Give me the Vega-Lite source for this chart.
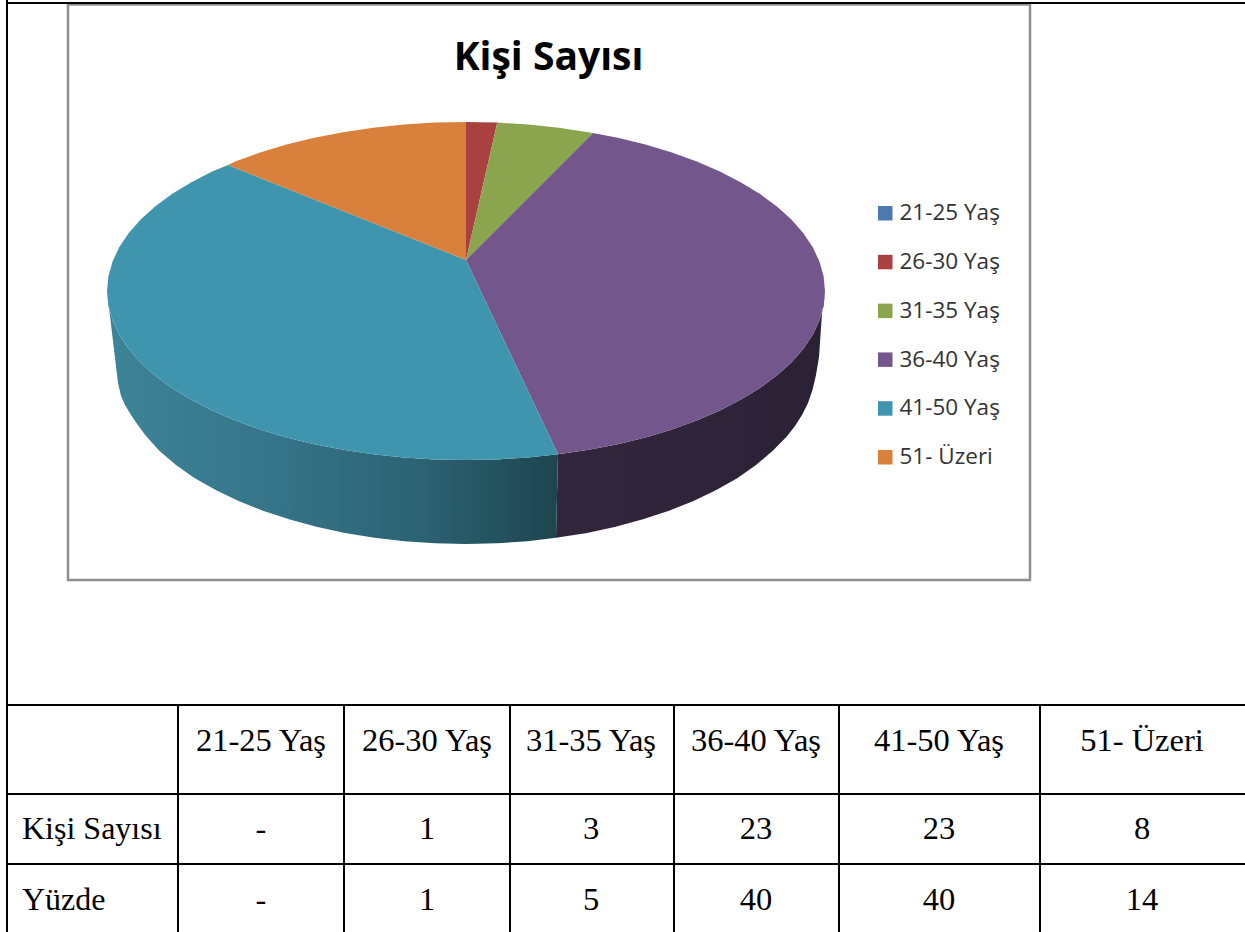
{
"$schema":"https://vega.github.io/schema/vega-lite/v6.json",
"width":1245,"height":932,"padding":0,"autosize":{"type":"none"},
"background":"white",
"view":{"stroke":null},
"title":{"text":"Kişi Sayısı","font":"Open Sans","fontSize":39,"fontWeight":"bold","color":"#000000","frame":"group","anchor":"middle","offset":0,"dx":-74,"dy":110,"baseline":"alphabetic"},
"encoding":{
"x":{"field":"x","type":"quantitative","scale":{"domain":[0,1245],"nice":false,"zero":false},"axis":null},
"y":{"field":"y","type":"quantitative","scale":{"domain":[932,0],"nice":false,"zero":false},"axis":null}
},
"layer":[
{"data":{"values":[{"x":68,"y":4.5,"x2":1030,"y2":580}]},
 "mark":{"type":"rect","fill":"white","stroke":"#8f8f8f","strokeWidth":2.5},
 "encoding":{"x2":{"field":"x2"},"y2":{"field":"y2"}}},
{"data":{"values":[
{"seq":1,"x":558,"y":454.3},{"seq":2,"x":588.8,"y":449.8},{"seq":3,"x":617.7,"y":444.2},{"seq":4,"x":645.5,"y":437.4},{"seq":5,"x":671.9,"y":429.4},{"seq":6,"x":696.8,"y":420.5},{"seq":7,"x":719.9,"y":410.5},{"seq":8,"x":741,"y":399.6},{"seq":9,"x":760.1,"y":387.9},{"seq":10,"x":776.9,"y":375.5},{"seq":11,"x":791.4,"y":362.4},{"seq":12,"x":803.4,"y":348.8},{"seq":13,"x":812.8,"y":334.7},{"seq":14,"x":819.5,"y":320.3},{"seq":15,"x":823.6,"y":305.7},{"seq":16,"x":825,"y":291},
{"seq":17,"x":822,"y":313},{"seq":18,"x":819,"y":357},{"seq":19,"x":816,"y":375},{"seq":20,"x":812.5,"y":390},{"seq":21,"x":808,"y":403},{"seq":22,"x":802,"y":415},{"seq":23,"x":795,"y":426},{"seq":24,"x":786.8,"y":436.5},{"seq":25,"x":773,"y":450.5},{"seq":26,"x":756,"y":465},{"seq":27,"x":737.2,"y":478.3},{"seq":28,"x":716.3,"y":490.1},{"seq":29,"x":693.5,"y":501},{"seq":30,"x":669,"y":510.7},{"seq":31,"x":643,"y":519.3},{"seq":32,"x":615.6,"y":526.8},{"seq":33,"x":587.1,"y":532.9},{"seq":34,"x":556,"y":537.8}
]},
 "mark":{"type":"line","strokeWidth":0,"fill":{"gradient":"linear","x1":0,"y1":0,"x2":1,"y2":0,"stops":[{"offset":0,"color":"#32263c"},{"offset":1,"color":"#2b2135"}]}},
 "encoding":{"order":{"field":"seq","type":"quantitative"}}},
{"data":{"values":[
{"seq":1,"x":558,"y":454.3},{"seq":2,"x":528.3,"y":457.4},{"seq":3,"x":497.3,"y":459.4},{"seq":4,"x":466,"y":460},{"seq":5,"x":434.7,"y":459.4},{"seq":6,"x":403.7,"y":457.4},{"seq":7,"x":373.1,"y":454.2},{"seq":8,"x":343.2,"y":449.8},{"seq":9,"x":314.3,"y":444.2},{"seq":10,"x":286.5,"y":437.4},{"seq":11,"x":260.1,"y":429.4},{"seq":12,"x":235.2,"y":420.5},{"seq":13,"x":212.1,"y":410.5},{"seq":14,"x":191,"y":399.6},{"seq":15,"x":171.9,"y":387.9},{"seq":16,"x":155.1,"y":375.5},{"seq":17,"x":140.6,"y":362.4},{"seq":18,"x":128.6,"y":348.8},{"seq":19,"x":119.2,"y":334.7},{"seq":20,"x":112.5,"y":320.3},{"seq":21,"x":108.4,"y":305.7},{"seq":22,"x":107,"y":291},
{"seq":23,"x":118,"y":383},{"seq":24,"x":121,"y":396},{"seq":25,"x":125,"y":405},{"seq":26,"x":131,"y":415},{"seq":27,"x":137.5,"y":424.5},{"seq":28,"x":145.2,"y":435},{"seq":29,"x":159,"y":450.5},{"seq":30,"x":176,"y":465},{"seq":31,"x":194.8,"y":478.3},{"seq":32,"x":215.7,"y":490.1},{"seq":33,"x":238.5,"y":501},{"seq":34,"x":263,"y":510.7},{"seq":35,"x":289,"y":519.3},{"seq":36,"x":316.4,"y":526.8},{"seq":37,"x":344.9,"y":532.9},{"seq":38,"x":374.4,"y":537.7},{"seq":39,"x":404.5,"y":541.2},{"seq":40,"x":435.1,"y":543.3},{"seq":41,"x":466,"y":544},{"seq":42,"x":496.9,"y":543.3},{"seq":43,"x":527.5,"y":541.2},{"seq":44,"x":556,"y":537.8}
]},
 "mark":{"type":"line","strokeWidth":0,"fill":{"gradient":"linear","x1":0,"y1":0,"x2":1,"y2":0,"stops":[{"offset":0,"color":"#3d8499"},{"offset":0.35,"color":"#36758a"},{"offset":0.7,"color":"#2c6273"},{"offset":1,"color":"#1d454e"}]}},
 "encoding":{"order":{"field":"seq","type":"quantitative"}}},
{"data":{"values":[
{"slice":"26-30 Yaş","seq":1,"x":466,"y":260},{"slice":"26-30 Yaş","seq":2,"x":466,"y":122},{"slice":"26-30 Yaş","seq":3,"x":497.3,"y":122.6},
{"slice":"31-35 Yaş","seq":1,"x":466,"y":260},{"slice":"31-35 Yaş","seq":2,"x":497.3,"y":122.6},{"slice":"31-35 Yaş","seq":3,"x":528.3,"y":124.6},{"slice":"31-35 Yaş","seq":4,"x":558.9,"y":127.8},{"slice":"31-35 Yaş","seq":5,"x":593,"y":133},
{"slice":"36-40 Yaş","seq":1,"x":466,"y":260},{"slice":"36-40 Yaş","seq":2,"x":593,"y":133},{"slice":"36-40 Yaş","seq":3,"x":617.7,"y":137.8},{"slice":"36-40 Yaş","seq":4,"x":645.5,"y":144.6},{"slice":"36-40 Yaş","seq":5,"x":671.9,"y":152.6},{"slice":"36-40 Yaş","seq":6,"x":696.8,"y":161.5},{"slice":"36-40 Yaş","seq":7,"x":719.9,"y":171.5},{"slice":"36-40 Yaş","seq":8,"x":741,"y":182.4},{"slice":"36-40 Yaş","seq":9,"x":760.1,"y":194.1},{"slice":"36-40 Yaş","seq":10,"x":776.9,"y":206.5},{"slice":"36-40 Yaş","seq":11,"x":791.4,"y":219.6},{"slice":"36-40 Yaş","seq":12,"x":803.4,"y":233.2},{"slice":"36-40 Yaş","seq":13,"x":812.8,"y":247.3},{"slice":"36-40 Yaş","seq":14,"x":819.5,"y":261.7},{"slice":"36-40 Yaş","seq":15,"x":823.6,"y":276.3},{"slice":"36-40 Yaş","seq":16,"x":825,"y":291},{"slice":"36-40 Yaş","seq":17,"x":823.6,"y":305.7},{"slice":"36-40 Yaş","seq":18,"x":819.5,"y":320.3},{"slice":"36-40 Yaş","seq":19,"x":812.8,"y":334.7},{"slice":"36-40 Yaş","seq":20,"x":803.4,"y":348.8},{"slice":"36-40 Yaş","seq":21,"x":791.4,"y":362.4},{"slice":"36-40 Yaş","seq":22,"x":776.9,"y":375.5},{"slice":"36-40 Yaş","seq":23,"x":760.1,"y":387.9},{"slice":"36-40 Yaş","seq":24,"x":741,"y":399.6},{"slice":"36-40 Yaş","seq":25,"x":719.9,"y":410.5},{"slice":"36-40 Yaş","seq":26,"x":696.8,"y":420.5},{"slice":"36-40 Yaş","seq":27,"x":671.9,"y":429.4},{"slice":"36-40 Yaş","seq":28,"x":645.5,"y":437.4},{"slice":"36-40 Yaş","seq":29,"x":617.7,"y":444.2},{"slice":"36-40 Yaş","seq":30,"x":588.8,"y":449.8},{"slice":"36-40 Yaş","seq":31,"x":558,"y":454.3},
{"slice":"41-50 Yaş","seq":1,"x":466,"y":260},{"slice":"41-50 Yaş","seq":2,"x":558,"y":454.3},{"slice":"41-50 Yaş","seq":3,"x":528.3,"y":457.4},{"slice":"41-50 Yaş","seq":4,"x":497.3,"y":459.4},{"slice":"41-50 Yaş","seq":5,"x":466,"y":460},{"slice":"41-50 Yaş","seq":6,"x":434.7,"y":459.4},{"slice":"41-50 Yaş","seq":7,"x":403.7,"y":457.4},{"slice":"41-50 Yaş","seq":8,"x":373.1,"y":454.2},{"slice":"41-50 Yaş","seq":9,"x":343.2,"y":449.8},{"slice":"41-50 Yaş","seq":10,"x":314.3,"y":444.2},{"slice":"41-50 Yaş","seq":11,"x":286.5,"y":437.4},{"slice":"41-50 Yaş","seq":12,"x":260.1,"y":429.4},{"slice":"41-50 Yaş","seq":13,"x":235.2,"y":420.5},{"slice":"41-50 Yaş","seq":14,"x":212.1,"y":410.5},{"slice":"41-50 Yaş","seq":15,"x":191,"y":399.6},{"slice":"41-50 Yaş","seq":16,"x":171.9,"y":387.9},{"slice":"41-50 Yaş","seq":17,"x":155.1,"y":375.5},{"slice":"41-50 Yaş","seq":18,"x":140.6,"y":362.4},{"slice":"41-50 Yaş","seq":19,"x":128.6,"y":348.8},{"slice":"41-50 Yaş","seq":20,"x":119.2,"y":334.7},{"slice":"41-50 Yaş","seq":21,"x":112.5,"y":320.3},{"slice":"41-50 Yaş","seq":22,"x":108.4,"y":305.7},{"slice":"41-50 Yaş","seq":23,"x":107,"y":291},{"slice":"41-50 Yaş","seq":24,"x":108.4,"y":276.3},{"slice":"41-50 Yaş","seq":25,"x":112.5,"y":261.7},{"slice":"41-50 Yaş","seq":26,"x":119.2,"y":247.3},{"slice":"41-50 Yaş","seq":27,"x":128.6,"y":233.2},{"slice":"41-50 Yaş","seq":28,"x":140.6,"y":219.6},{"slice":"41-50 Yaş","seq":29,"x":155.1,"y":206.5},{"slice":"41-50 Yaş","seq":30,"x":171.9,"y":194.1},{"slice":"41-50 Yaş","seq":31,"x":191,"y":182.4},{"slice":"41-50 Yaş","seq":32,"x":212.1,"y":171.5},{"slice":"41-50 Yaş","seq":33,"x":228,"y":165},
{"slice":"51- Üzeri","seq":1,"x":466,"y":260},{"slice":"51- Üzeri","seq":2,"x":228,"y":165},{"slice":"51- Üzeri","seq":3,"x":235.2,"y":161.5},{"slice":"51- Üzeri","seq":4,"x":260.1,"y":152.6},{"slice":"51- Üzeri","seq":5,"x":286.5,"y":144.6},{"slice":"51- Üzeri","seq":6,"x":314.3,"y":137.8},{"slice":"51- Üzeri","seq":7,"x":343.2,"y":132.2},{"slice":"51- Üzeri","seq":8,"x":373.1,"y":127.8},{"slice":"51- Üzeri","seq":9,"x":403.7,"y":124.6},{"slice":"51- Üzeri","seq":10,"x":434.7,"y":122.6},{"slice":"51- Üzeri","seq":11,"x":466,"y":122}
]},
 "mark":{"type":"line","strokeWidth":0,"filled":true},
 "encoding":{
  "order":{"field":"seq","type":"quantitative"},
  "fill":{"field":"slice","type":"nominal",
   "scale":{"domain":["21-25 Yaş","26-30 Yaş","31-35 Yaş","36-40 Yaş","41-50 Yaş","51- Üzeri"],"range":["#4a7ab0","#a8413f","#8aa54e","#73568b","#4095ae","#d8803c"]},
   "legend":{"title":null,"orient":"none","legendX":874,"legendY":202,"symbolType":"square","symbolSize":210,"symbolStrokeWidth":0,"labelFont":"Open Sans","labelFontSize":22.5,"labelColor":"#333333","labelOffset":3,"rowPadding":25.8}}
 }},
{"data":{"values":[
{"x":7,"y":3,"x2":1245,"y2":3},{"x":7,"y":0,"x2":7,"y2":932},
{"x":7,"y":705,"x2":1245,"y2":705},{"x":7,"y":794,"x2":1245,"y2":794},{"x":7,"y":864,"x2":1245,"y2":864},
{"x":178,"y":705,"x2":178,"y2":932},{"x":344,"y":705,"x2":344,"y2":932},{"x":510,"y":705,"x2":510,"y2":932},{"x":674,"y":705,"x2":674,"y2":932},{"x":839,"y":705,"x2":839,"y2":932},{"x":1040,"y":705,"x2":1040,"y2":932}
]},
 "mark":{"type":"rule","color":"#000000","strokeWidth":2},
 "encoding":{"x2":{"field":"x2"},"y2":{"field":"y2"}}},
{"data":{"values":[
{"t":"21-25 Yaş","x":261,"y":741},{"t":"26-30 Yaş","x":427,"y":741},{"t":"31-35 Yaş","x":591,"y":741},{"t":"36-40 Yaş","x":756,"y":741},{"t":"41-50 Yaş","x":939,"y":741},{"t":"51- Üzeri","x":1142,"y":741},
{"t":"-","x":261,"y":829},{"t":"1","x":427,"y":829},{"t":"3","x":591,"y":829},{"t":"23","x":756,"y":829},{"t":"23","x":939,"y":829},{"t":"8","x":1142,"y":829},
{"t":"-","x":261,"y":900},{"t":"1","x":427,"y":900},{"t":"5","x":591,"y":900},{"t":"40","x":756,"y":900},{"t":"40","x":939,"y":900},{"t":"14","x":1142,"y":900}
]},
 "mark":{"type":"text","font":"Liberation Serif","fontSize":32.5,"color":"#000000","align":"center","baseline":"middle"},
 "encoding":{"text":{"field":"t"}}},
{"data":{"values":[{"t":"Kişi Sayısı","x":22,"y":829},{"t":"Yüzde","x":22,"y":900}]},
 "mark":{"type":"text","font":"Liberation Serif","fontSize":32,"color":"#000000","align":"left","baseline":"middle"},
 "encoding":{"text":{"field":"t"}}}
]
}
